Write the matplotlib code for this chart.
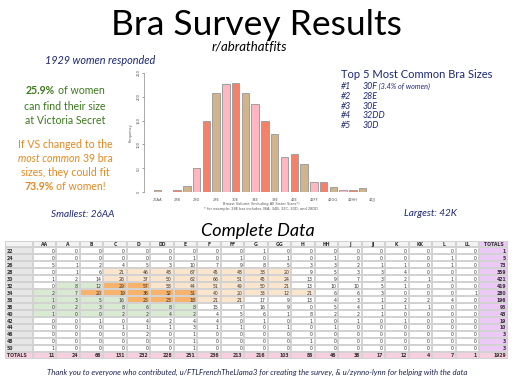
#!/usr/bin/env python3
import matplotlib
matplotlib.use("Agg")
import matplotlib.pyplot as plt
import numpy as np
from matplotlib.colors import ListedColormap
from matplotlib.offsetbox import AnnotationBbox, HPacker, TextArea

W, H = 512, 384
SANS = ["Lato", "DejaVu Sans"]
NAVY = "#1c2778"
GREEN = "#3b7a1c"
ORANGE = "#e8871e"

# histogram: breast volume, sister sizes pooled
volume_counts = [5, 1, 4, 13, 50, 150, 209, 227, 230, 208, 185, 149,
                 121, 73, 80, 58, 22, 20, 10, 5, 5, 8, 1]
volume_labels = ["26AA", "28B", "28D", "28E", "30E", "34E", "38E", "42E",
                 "42FF", "42GG", "42HH", "42JJ"]
bar_colors = ["#d2b48c", "#ffb6c1", "#f4826a"]

top5_sizes = ["30F", "28E", "30E", "32DD", "30D"]
top5_notes = [" (3.4% of women)", "", "", "", ""]

# complete data table
bands = ["22", "24", "26", "28", "30", "32", "34", "36", "38", "40",
         "42", "44", "46", "48", "50"]
cups = ["AA", "A", "B", "C", "D", "DD", "E", "F", "FF", "G", "GG", "H",
        "HH", "J", "JJ", "K", "KK", "L", "LL"]
counts = [
    [0, 0, 0, 0, 0, 0, 0, 0, 0, 1, 0, 0, 0, 0, 0, 0, 0, 0, 0],
    [0, 0, 0, 0, 0, 0, 1, 0, 1, 0, 1, 0, 1, 0, 0, 0, 0, 1, 0],
    [5, 1, 2, 4, 5, 3, 10, 7, 9, 8, 5, 3, 3, 2, 1, 1, 0, 1, 0],
    [0, 1, 6, 21, 46, 48, 67, 45, 48, 38, 20, 9, 5, 3, 3, 4, 0, 0, 0],
    [1, 2, 14, 26, 37, 50, 62, 66, 51, 45, 24, 13, 9, 7, 3, 2, 1, 1, 0],
    [0, 8, 12, 29, 57, 58, 44, 51, 49, 50, 21, 13, 10, 10, 5, 1, 0, 0, 0],
    [2, 7, 20, 19, 36, 32, 31, 40, 20, 33, 12, 21, 6, 6, 3, 0, 0, 0, 1],
    [1, 3, 5, 16, 25, 23, 18, 21, 21, 17, 9, 13, 4, 3, 1, 2, 2, 4, 0],
    [0, 2, 3, 8, 6, 8, 8, 15, 7, 16, 9, 0, 5, 4, 1, 1, 1, 0, 0],
    [1, 0, 0, 2, 2, 4, 2, 4, 5, 6, 1, 8, 2, 2, 1, 0, 0, 0, 0],
    [0, 0, 1, 0, 4, 2, 4, 4, 0, 1, 0, 1, 0, 1, 0, 1, 0, 0, 0],
    [0, 0, 0, 1, 1, 1, 3, 1, 1, 0, 1, 0, 1, 0, 0, 0, 0, 0, 0],
    [0, 0, 0, 0, 2, 0, 1, 0, 0, 0, 0, 0, 0, 0, 0, 0, 0, 0, 0],
    [0, 0, 0, 0, 0, 0, 1, 0, 0, 0, 0, 1, 0, 0, 0, 0, 0, 0, 0],
    [1, 0, 0, 0, 0, 0, 1, 0, 0, 0, 0, 0, 0, 0, 0, 0, 0, 0, 0],
]
band_totals = [1, 5, 73, 359, 421, 419, 280, 196, 93, 43, 19, 10, 3, 3, 3]
cup_totals = [11, 24, 66, 131, 232, 228, 251, 236, 213, 216, 103, 86, 46,
              38, 17, 12, 4, 7, 1]
grand_total = 1929

common_sizes = (
    ["28" + c for c in ["C", "D", "DD", "E", "F", "FF", "G", "GG"]]
    + ["30" + c for c in ["C", "D", "DD", "E", "F", "FF", "G", "GG"]]
    + ["32" + c for c in ["C", "D", "DD", "E", "F", "FF", "G", "GG"]]
    + ["34" + c for c in ["B", "C", "D", "DD", "E", "F", "FF", "G", "GG", "H"]]
    + ["36" + c for c in ["D", "DD", "E", "F", "FF"]]
)
vs_sizes = (
    ["32" + c for c in ["A", "B", "C", "D"]]
    + [b + c for b in ["34", "36", "38", "40"]
       for c in ["AA", "A", "B", "C", "D", "DD", "E"]]
)


def rich_line(fig, x, y, parts, size, color, ha=0.5):
    boxes = []
    for s, kw in parts:
        props = dict(fontfamily=SANS, fontsize=size, color=color)
        props.update(kw)
        boxes.append(TextArea(s, textprops=props))
    pack = HPacker(children=boxes, align="baseline", pad=0, sep=size * 0.28)
    ab = AnnotationBbox(pack, (x, H - y), xycoords="figure pixels",
                        frameon=False, box_alignment=(ha, 0.5), pad=0)
    fig.add_artist(ab)


def ftext(fig, x, y, s, **kw):
    kw.setdefault("fontfamily", SANS)
    fig.text(x / W, 1 - y / H, s, **kw)


fig = plt.figure(figsize=(W / 100, H / 100), dpi=100)
fig.patch.set_facecolor("white")

# header texts
ftext(fig, 256, 35, "Bra Survey Results", fontsize=25.5,
      ha="center", va="baseline", color="black")
ftext(fig, 249, 51, "r/abrathatfits", fontsize=9.5, style="italic",
      ha="center", va="baseline", color="black")
ftext(fig, 100, 64, "1929 women responded", fontsize=7.8, style="italic",
      ha="center", va="baseline", color=NAVY)

ts = 7.6
rich_line(fig, 65, 91, [("25.9%", {"weight": "bold"}), ("of women", {})], ts, GREEN)
rich_line(fig, 65, 106, [("can find their size", {})], ts, GREEN)
rich_line(fig, 65, 120, [("at Victoria Secret", {})], ts, GREEN)
rich_line(fig, 65, 144, [("If VS changed to the", {})], ts, ORANGE)
rich_line(fig, 65, 159, [("most common", {"style": "italic"}), ("39 bra", {})], ts, ORANGE)
rich_line(fig, 65, 172, [("sizes, they could fit", {})], ts, ORANGE)
rich_line(fig, 65, 186, [("73.9%", {"weight": "bold"}), ("of women!", {})], ts, ORANGE)

ftext(fig, 83, 217, "Smallest: 26AA", fontsize=7.2, style="italic",
      ha="center", va="baseline", color=NAVY)
ftext(fig, 430, 216, "Largest: 42K", fontsize=7.2, style="italic",
      ha="center", va="baseline", color=NAVY)

ftext(fig, 341, 78, "Top 5 Most Common Bra Sizes", fontsize=8,
      ha="left", va="baseline", color=NAVY)
for i, (size, note) in enumerate(zip(top5_sizes, top5_notes)):
    yb = 89 + i * 9.8
    ftext(fig, 341, yb, f"#{i + 1}", fontsize=6.3, style="italic",
          ha="left", va="baseline", color=NAVY)
    ftext(fig, 363, yb, size, fontsize=6.3, style="italic",
          ha="left", va="baseline", color=NAVY)
    if note:
        ftext(fig, 377, yb, note, fontsize=5.2, style="italic",
              ha="left", va="baseline", color=NAVY)

# histogram
hx = fig.add_axes([144 / W, 1 - 192 / H, 236 / W, 119 / H])
pos = np.arange(len(volume_counts))
hx.bar(pos, volume_counts, width=0.76,
       color=[bar_colors[i % 3] for i in pos],
       edgecolor="#a0a0a0", linewidth=0.7)
hx.set_xlim(-1.38, 22.77)
hx.set_ylim(0, 250)
for s in ["top", "right", "bottom"]:
    hx.spines[s].set_visible(False)
hx.spines["left"].set_color("#888888")
hx.spines["left"].set_linewidth(0.5)
hx.set_yticks(range(0, 251, 50))
hx.tick_params(axis="y", labelsize=2.6, length=1.5, width=0.4, pad=1,
               labelrotation=90, colors="#555555")
for t in hx.get_yticklabels():
    t.set_va("center")
hx.set_xticks(pos[::2])
hx.set_xticklabels(volume_labels)
hx.tick_params(axis="x", length=0, labelsize=2.6, pad=4, colors="#555555")
hx.set_ylabel("Frequency", fontsize=2.6, labelpad=3, color="#555555")
hx.patch.set_alpha(0)
ftext(fig, 261, 205, "Breast Volume (Including All Sister Sizes*)",
      fontsize=2.6, ha="center", va="baseline", color="#555555",
      fontfamily="DejaVu Sans")
ftext(fig, 261, 210, "* for example: 28E bar includes 36A, 34B, 32C, 30D, and 28DD",
      fontsize=2.6, ha="center", va="baseline", color="#555555",
      fontfamily="DejaVu Sans")

ftext(fig, 258, 236, "Complete Data", fontsize=13, style="italic",
      ha="center", va="baseline", color="black")

# table
tab = fig.add_axes([5 / W, 1 - 359 / H, 503 / W, (359 - 240.5) / H])
col_w = [28] + [23.47] * len(cups) + [29]
x_edges = np.concatenate([[0], np.cumsum(col_w)])
n_rows = len(bands) + 2
n_cols = len(cups) + 2
y_edges = np.arange(n_rows + 1)

cell_kind = np.zeros((n_rows, n_cols))
cell_kind[0, :] = 2
cell_kind[1:-1, 0] = 1
for i, b in enumerate(bands):
    for j, c in enumerate(cups):
        size = b + c
        if size in common_sizes and size in vs_sizes:
            cell_kind[i + 1, j + 1] = 5
        elif size in common_sizes:
            cell_kind[i + 1, j + 1] = 4
        elif size in vs_sizes:
            cell_kind[i + 1, j + 1] = 3
cell_kind[-1, :] = 6
cell_kind[:-1, -1] = 7
kind_cmap = ListedColormap(["#ffffff", "#e6e6e6", "#f3f3f3", "#d9ead3",
                            "#fce5cd", "#f7b26b", "#f8cfdf", "#ecc9f6"])
tab.pcolormesh(x_edges, y_edges, cell_kind, cmap=kind_cmap, vmin=-0.5,
               vmax=7.5, edgecolors="#d2d2d2", linewidth=0.3)
tab.set_xlim(0, x_edges[-1])
tab.set_ylim(n_rows, 0)
tab.axis("off")

fs = 3.3
txt = "#333333"
for j, c in enumerate(cups):
    tab.text((x_edges[j + 1] + x_edges[j + 2]) / 2, 0.55, c, ha="center",
             va="center", fontsize=fs, weight="bold", color=txt)
tab.text((x_edges[-2] + x_edges[-1]) / 2, 0.55, "TOTALS", ha="center",
         va="center", fontsize=fs, weight="bold", color=txt)
for i, b in enumerate(bands):
    tab.text(2, i + 1.55, b, ha="left", va="center", fontsize=fs,
             weight="bold", color=txt)
    for j, v in enumerate(counts[i]):
        tab.text(x_edges[j + 2] - 2, i + 1.55, str(v), ha="right",
                 va="center", fontsize=fs, color=txt)
    tab.text(x_edges[-1] - 2, i + 1.55, str(band_totals[i]), ha="right",
             va="center", fontsize=fs, weight="bold", color=txt)
tab.text(2, n_rows - 0.45, "TOTALS", ha="left", va="center", fontsize=fs,
         weight="bold", color=txt)
for j, v in enumerate(cup_totals):
    tab.text(x_edges[j + 2] - 2, n_rows - 0.45, str(v), ha="right",
             va="center", fontsize=fs, weight="bold", color=txt)
tab.text(x_edges[-1] - 2, n_rows - 0.45, str(grand_total), ha="right",
         va="center", fontsize=fs, weight="bold", color=txt)

ftext(fig, 257, 375,
      "Thank you to everyone who contributed, u/FTLFrenchTheLlama3 for "
      "creating the survey, & u/zynno-lynn for helping with the data",
      fontsize=5.6, style="italic", ha="center", va="baseline", color="#1c2350")

fig.savefig("out.png", dpi=100)
